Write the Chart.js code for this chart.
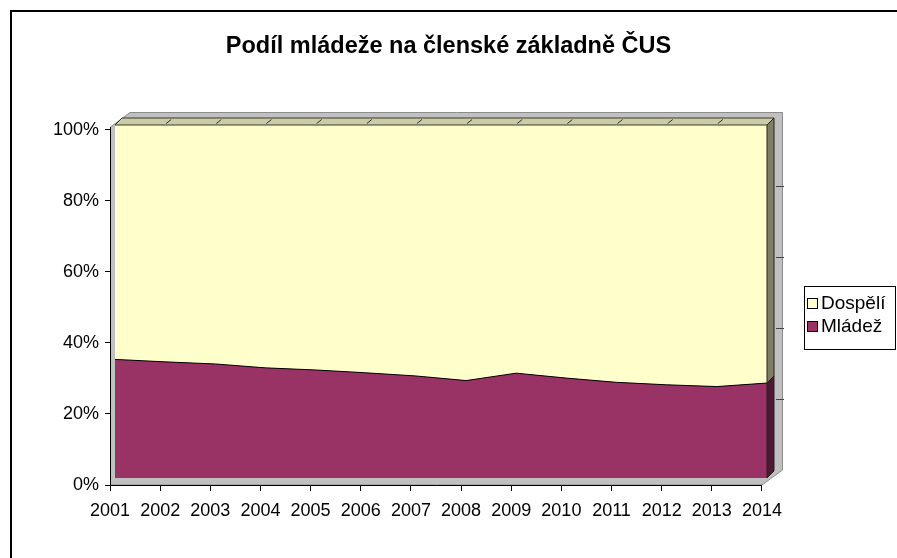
<!DOCTYPE html>
<html lang="cs">
<head>
    <meta charset="UTF-8">
    <title>Podíl mládeže na členské základně ČUS</title>
    <script src="https://cdn.jsdelivr.net/npm/chart.js"></script>
    <style>
        body { margin: 0; background: #fff; }
    </style>
</head>
<body>
    <canvas id="chart" width="897" height="558"></canvas>

    <script>
        // data (% of members)
        const years = [2001, 2002, 2003, 2004, 2005, 2006, 2007, 2008, 2009, 2010, 2011, 2012, 2013, 2014];
        const mladez = [33.6, 32.9, 32.3, 31.2, 30.6, 29.8, 28.9, 27.6, 29.7, 28.3, 27.1, 26.4, 25.9, 26.9];
        const dospeli = [66.4, 67.1, 67.7, 68.8, 69.4, 70.2, 71.1, 72.4, 70.3, 71.7, 72.9, 73.6, 74.1, 73.1];
        const yTicks = [0, 20, 40, 60, 80, 100];

        const FONT = "'Liberation Sans', Arial, sans-serif";
        const YELLOW = '#ffffcc';
        const PURPLE = '#993366';

        // the series sit a little behind the axis plane (excel 3d look)
        const depthX = 0.1;          // years
        const yMin = -1.983;         // axis 0% lies below the series floor
        const backScale = 355 / 353;

        function poly(c, pts, fill, stroke) {
            c.beginPath();
            c.moveTo(pts[0][0], pts[0][1]);
            for (let i = 1; i < pts.length; i++) c.lineTo(pts[i][0], pts[i][1]);
            c.closePath();
            c.fillStyle = fill;
            c.fill();
            if (stroke) {
                c.strokeStyle = stroke;
                c.lineWidth = 1;
                c.stroke();
            }
        }

        const excel3d = {
            id: 'excel3d',
            beforeDraw(chart) {
                const c = chart.ctx;
                c.save();
                c.fillStyle = '#fff';
                c.fillRect(0, 0, chart.width, chart.height);
                c.restore();
            },
            beforeDatasetsDraw(chart) {
                const c = chart.ctx, xs = chart.scales.x, ys = chart.scales.y;
                const L = xs.left, B = ys.bottom;
                const X1 = xs.getPixelForValue(years[years.length - 1]);
                const Y100 = ys.getPixelForValue(100);
                const XT = xs.getPixelForValue(xs.ticks[xs.ticks.length - 1].value);
                c.save();
                // walls + floor
                poly(c, [[L + 0.5, B], [L + 0.5, Y100 + 2], [L + 20, Y100 - 12.5], [X1 + 15.5, Y100 - 12.5],
                         [X1 + 15.5, B - 15], [XT, B]], '#c0c0c0', '#8c8c8c');
                // axis lines
                c.beginPath();
                c.moveTo(L + 0.5, Y100 + 2);
                c.lineTo(L + 0.5, B + 0.5);
                c.lineTo(XT, B + 0.5);
                c.strokeStyle = '#000';
                c.lineWidth = 1;
                c.stroke();
                c.restore();
            },
            afterDatasetsDraw(chart) {
                const c = chart.ctx, xs = chart.scales.x, ys = chart.scales.y;
                const n = years.length;
                const X0 = xs.getPixelForValue(years[0]);
                const X1 = xs.getPixelForValue(years[n - 1]);
                const Y0 = ys.getPixelForValue(0);
                const Y100 = ys.getPixelForValue(100);
                const yM = ys.getPixelForValue(mladez[n - 1]);
                const dx = 7, dy = -7;
                c.save();
                // top face of the adult series
                poly(c, [[X0, Y100], [X0 + dx, Y100 + dy], [X1 + dx, Y100 + dy], [X1, Y100]], '#cbcba6', '#3a3a30');
                c.strokeStyle = '#333';
                c.lineWidth = 1;
                for (let i = 1; i < n - 1; i++) {
                    const x = xs.getPixelForValue(years[i]);
                    c.beginPath();
                    c.moveTo(x + 1, Y100 - 1.5);
                    c.lineTo(x + 6, Y100 - 5.5);
                    c.stroke();
                }
                // right side faces
                poly(c, [[X1, Y0], [X1 + dx, Y0 + dy], [X1 + dx, yM + dy], [X1, yM]], '#4d1a33', '#222');
                poly(c, [[X1, yM], [X1 + dx, yM + dy], [X1 + dx, Y100 + dy], [X1, Y100]], '#7f7f68', '#222');
                // little ticks on the back right wall
                c.strokeStyle = '#444';
                for (let i = 1; i < yTicks.length - 1; i++) {
                    const y = Math.round(ys.getPixelForValue(yMin + yTicks[i] * backScale) - 15) + 0.5;
                    c.beginPath();
                    c.moveTo(X1 + 9, y);
                    c.lineTo(X1 + 17, y);
                    c.stroke();
                }
                c.restore();
            },
            afterDraw(chart) {
                const c = chart.ctx;
                c.save();
                // legend
                c.strokeStyle = '#000';
                c.lineWidth = 1;
                c.strokeRect(804.5, 286.5, 91, 63);
                const ds = chart.data.datasets.slice().reverse();
                c.font = '19px ' + FONT;
                c.textBaseline = 'middle';
                c.fillStyle = '#000';
                ds.forEach((d, i) => {
                    const cy = 304 + i * 23;
                    c.fillStyle = d.backgroundColor;
                    c.fillRect(807.5, cy - 5.5, 10, 10);
                    c.strokeRect(807.5, cy - 5.5, 10, 10);
                    c.fillStyle = '#000';
                    c.fillText(d.label, 821, cy);
                });
                // chart frame
                c.lineWidth = 2;
                c.strokeRect(11, 11, 2000, 2000);
                c.restore();
            }
        };

        const ctx = document.getElementById('chart').getContext('2d');
        new Chart(ctx, {
            type: 'line',
            data: {
                datasets: [
                    {
                        label: 'Mládež',
                        data: years.map((y, i) => ({ x: y, y: mladez[i] })),
                        backgroundColor: PURPLE,
                        borderColor: '#000',
                        borderWidth: 1,
                        fill: 'origin',
                        pointRadius: 0,
                        tension: 0
                    },
                    {
                        label: 'Dospělí',
                        data: years.map((y, i) => ({ x: y, y: dospeli[i] })),
                        backgroundColor: YELLOW,
                        borderColor: 'rgba(0,0,0,0)',
                        borderWidth: 0,
                        fill: '-1',
                        pointRadius: 0,
                        tension: 0
                    }
                ]
            },
            options: {
                responsive: false,
                animation: false,
                layout: { padding: 0 },
                plugins: {
                    legend: { display: false },
                    tooltip: { enabled: false },
                    title: {
                        display: true,
                        text: 'Podíl mládeže na členské základně ČUS',
                        color: '#000',
                        font: { family: FONT, size: 23.5, weight: 'bold', lineHeight: 1.2 },
                        padding: { top: 32, bottom: 64.8 }
                    }
                },
                scales: {
                    x: {
                        type: 'linear',
                        bounds: 'data',
                        min: years[0] - depthX,
                        max: years[years.length - 1],
                        afterBuildTicks: s => { s.ticks = years.map(y => ({ value: y - depthX })); },
                        afterFit: s => { s.height = 73; },
                        grid: { display: true, drawOnChartArea: false, drawTicks: true, tickLength: 6, color: '#000' },
                        border: { display: false },
                        ticks: {
                            autoSkip: false,
                            maxRotation: 0,
                            padding: 9,
                            color: '#000',
                            font: { family: FONT, size: 18 },
                            callback: (v, i) => years[i]
                        }
                    },
                    y: {
                        type: 'linear',
                        stacked: true,
                        bounds: 'data',
                        min: yMin,
                        max: 100,
                        afterBuildTicks: s => { s.ticks = yTicks.map(t => ({ value: yMin + t * backScale })); },
                        afterFit: s => { s.width = 110; },
                        grid: { display: true, drawOnChartArea: false, drawTicks: true, tickLength: 5, color: '#000' },
                        border: { display: false },
                        ticks: {
                            padding: 6,
                            color: '#000',
                            font: { family: FONT, size: 18 },
                            callback: (v, i) => yTicks[i] + '%'
                        }
                    },
                    r: {
                        type: 'linear',
                        position: 'right',
                        display: true,
                        afterFit: s => { s.width = 130; },
                        grid: { display: false },
                        border: { display: false },
                        ticks: { display: false }
                    }
                }
            },
            plugins: [excel3d]
        });
    </script>
</body>
</html>
